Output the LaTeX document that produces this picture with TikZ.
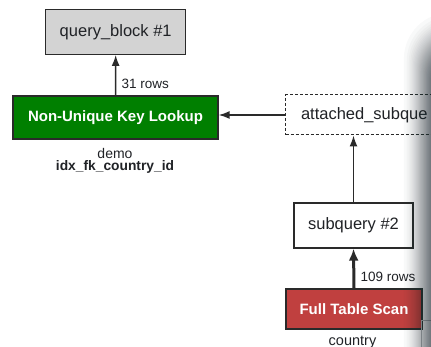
\documentclass[tikz,border=0pt]{standalone}
\usepackage{fontspec}
\setmainfont{Liberation Sans}
\usetikzlibrary{arrows.meta}

\definecolor{ink}{HTML}{202226}
\definecolor{edge}{HTML}{2A2A2A}
\definecolor{qbgray}{HTML}{D3D3D3}
\definecolor{lookupgreen}{HTML}{007F00}
\definecolor{scanred}{HTML}{C0403F}
\definecolor{shadowtone}{HTML}{1E2A32}
\definecolor{framegray}{HTML}{B4B8BA}

\begin{document}
\begin{tikzpicture}[x=1pt,y=-1pt,
  box/.style={draw=edge, line width=1.3pt, text=ink, inner sep=0pt,
    font=\fontsize{16.5}{18}\selectfont},
  opbox/.style={box, text=white, font=\bfseries\fontsize{15}{17}\selectfont},
  flow/.style={draw=edge, line width=1.5pt, -{Latex[length=11pt,width=8pt]}},
  heavyflow/.style={draw=edge, line width=3pt, -{Latex[length=12pt,width=10pt]}},
  note/.style={text=ink, inner sep=0pt, font=\fontsize{13.5}{15}\selectfont},
]
\useasboundingbox (0,0) rectangle (431,347);
\clip (0,0) rectangle (431,347);
\fill[white] (0,0) rectangle (431,347);

% plan nodes
\node[box, fill=qbgray, minimum width=140pt, minimum height=45pt] (qb) at (115.7,31.8) {query\_block \#1};
\node[opbox, fill=lookupgreen, minimum width=205pt, minimum height=43pt] (lookup) at (115.5,117.5) {Non-Unique Key Lookup};
\node[box, dashed, dash pattern=on 3pt off 2pt, line width=1pt, anchor=west,
      minimum height=40pt, text width=175pt, inner xsep=15.5pt, align=left] (att) at (285,115) {attached\_subque};
\node[box, fill=white, minimum width=119pt, minimum height=45pt] (sq) at (353.5,225.5) {subquery \#2};
\node[opbox, fill=scanred, minimum width=136pt, minimum height=40pt] (scan) at (354,309) {Full Table Scan};

% table / key captions
\node[note, font=\fontsize{14}{16}\selectfont] (t1) at (115,153) {demo};
\node[note, font=\bfseries\fontsize{13.8}{16}\selectfont] (k1) at (115,167) {idx\_fk\_country\_id};
\node[note, font=\fontsize{14.5}{16}\selectfont] (t2) at (352.5,342) {country};

% row counts
\node[note, anchor=west] (r1) at (121.5,84) {31 rows};
\node[note, anchor=west] (r2) at (360.5,277) {109 rows};

% data flow
\draw[flow] (lookup.north) -- (qb.south);
\draw[flow] (att.west) -- (att.west -| lookup.east);
\draw[flow] (sq.north) -- (sq.north |- att.south);
\draw[heavyflow] (scan.north) -- (sq.south);

% window frame behind the page edge
\draw[framegray, line width=1pt] (421.5,347) -- (421.5,320.5) -- (431,320.5);

% soft page-edge shadow: stacked translucent layers, denser towards the edge
\foreach \i in {0,...,35} {
  \pgfmathsetmacro{\s}{sqrt((\i+0.5)/36)}
  \pgfmathsetmacro{\lx}{400+33*\s}
  \pgfmathsetmacro{\ty}{8+38*\s}
  \pgfmathsetmacro{\rc}{48-12*\s}
  \fill[shadowtone, opacity=0.029, rounded corners=\rc pt]
    (\lx,\ty) rectangle (520,420);
}
\end{tikzpicture}
\end{document}
